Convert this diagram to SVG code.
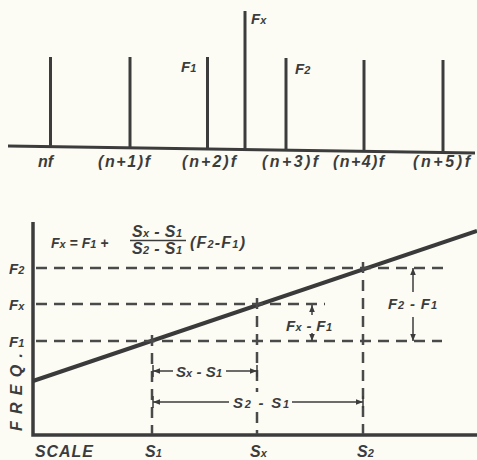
<svg xmlns="http://www.w3.org/2000/svg" width="477" height="460" viewBox="0 0 477 460">
<defs>
<marker id="ah" viewBox="0 0 10 10" refX="10" refY="5" markerWidth="7" markerHeight="7" markerUnits="userSpaceOnUse" orient="auto"><path d="M0,1 L10,5 L0,9 Z" fill="#3c3c3c"/></marker>
</defs>
<style>
.t{font-family:"Liberation Sans",Arial,sans-serif;font-style:italic;font-weight:bold;fill:#3c3c3c;font-size:16px}
.m{font-size:15px}
.f{font-size:14px}
.s{font-size:11px}
.bar{stroke:#3c3c3c;stroke-width:3;fill:none}
.ax{stroke:#3c3c3c;stroke-width:3.5;fill:none}
.dash{stroke:#4a4a4a;stroke-width:2.5;stroke-dasharray:11 7;fill:none}
.arr{stroke:#3c3c3c;stroke-width:1.5;fill:none;marker-end:url(#ah)}
.tk{stroke:#3c3c3c;stroke-width:1.5;fill:none}
</style>
<rect width="477" height="460" fill="#fcfcf4"/>

<g id="spectrum">
<path class="bar" d="M8,146 L475,153"/>
<path class="bar" d="M50.5,57 V146.7 M130,57 V148 M207.5,57 V149.2 M245,11 V149.8 M286,58 V150.4 M364,60 V151.6 M443,60 V152.8"/>
<text class="t" x="38" y="167" font-size="17">nf</text>
<text class="t" x="98" y="167" textLength="52">(n+1)f</text>
<text class="t" x="182" y="167" textLength="54">(n+2)f</text>
<text class="t" x="262" y="167" textLength="56">(n+3)f</text>
<text class="t" x="333" y="167" textLength="51">(n+4)f</text>
<text class="t" x="413" y="167" textLength="57">(n+5)f</text>
<text class="t m" x="181" y="72">F<tspan class="s">1</tspan></text>
<text class="t m" x="251" y="24">F<tspan class="s">x</tspan></text>
<text class="t m" x="295" y="74">F<tspan class="s">2</tspan></text>
</g>

<g id="formula">
<text class="t f" x="51" y="248">F<tspan class="s">x</tspan> = F<tspan class="s">1</tspan> +</text>
<text class="t" x="132" y="237" textLength="50">S<tspan class="s">x</tspan> - S<tspan class="s">1</tspan></text>
<path class="tk" d="M130,240.5 H186" stroke-width="2"/>
<text class="t" x="132" y="254" textLength="50">S<tspan class="s">2</tspan> - S<tspan class="s">1</tspan></text>
<text class="t" x="190" y="248" textLength="55">(F<tspan class="s">2</tspan>-F<tspan class="s">1</tspan>)</text>
</g>

<g id="axes">
<path class="ax" d="M33,222 V435 H477"/>
<text class="t m" x="9" y="274">F<tspan class="s">2</tspan></text>
<text class="t m" x="9" y="310">F<tspan class="s">x</tspan></text>
<text class="t m" x="9" y="347">F<tspan class="s">1</tspan></text>
<text class="t" transform="translate(22,431) rotate(-90)" font-size="18" textLength="78">FREQ.</text>
<text class="t" x="35" y="457" textLength="58">SCALE</text>
<text class="t" x="145" y="457">S<tspan class="s">1</tspan></text>
<text class="t" x="250" y="457">S<tspan class="s">x</tspan></text>
<text class="t" x="357" y="457">S<tspan class="s">2</tspan></text>
</g>

<g id="calibration-line">
<path d="M33,381 L477,231" stroke="#3a3a3a" stroke-width="4" fill="none"/>
</g>

<g id="connectors">
<path class="dash" d="M36,268 H446"/>
<path class="dash" d="M36,304 H325"/>
<path class="dash" d="M36,341 H442"/>
<path class="dash" d="M152,335 V434"/>
<path class="dash" d="M257,298 V392 M257,412 V434"/>
<path class="dash" d="M363,262 V434"/>
<path class="tk" d="M153,365 V377 M257,365 V377 M153,396 V408 M363,396 V408"/>
<path class="arr" d="M173,371 H153"/>
<path class="arr" d="M226,371 H257"/>
<path class="arr" d="M229,402 H153"/>
<path class="arr" d="M292,402 H363"/>
<path class="arr" d="M413,292 V268"/>
<path class="arr" d="M413,317 V341"/>
<path class="arr" d="M312,315 V305"/>
<path class="arr" d="M312,333 V341"/>
</g>

<g id="labels">
<text class="t m" x="176" y="377" textLength="46">S<tspan class="s">x</tspan> - S<tspan class="s">1</tspan></text>
<text class="t m" x="233" y="408" textLength="56">S<tspan class="s">2</tspan> - S<tspan class="s">1</tspan></text>
<text class="t m" x="286" y="331" textLength="46">F<tspan class="s">x</tspan> - F<tspan class="s">1</tspan></text>
<text class="t m" x="388" y="309" textLength="49">F<tspan class="s">2</tspan> - F<tspan class="s">1</tspan></text>
</g>
</svg>
